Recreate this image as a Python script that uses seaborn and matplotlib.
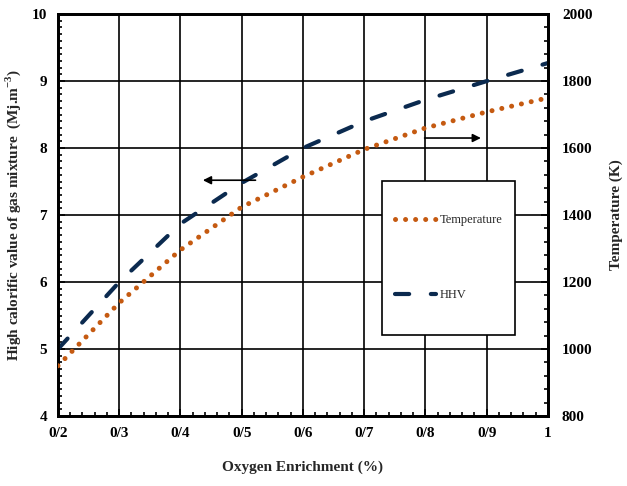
import matplotlib
matplotlib.use("Agg")
import matplotlib.pyplot as plt
import seaborn as sns
import pandas as pd
from matplotlib.patches import Rectangle
from matplotlib.ticker import MultipleLocator

# Data
oxygen = [0.2, 0.3, 0.4, 0.5, 0.6, 0.7, 0.8, 0.9, 1.0]
hhv = [5.0, 6.0, 6.87, 7.48, 8.0, 8.4, 8.72, 9.0, 9.27]
temperature = [950, 1138, 1296, 1424, 1514, 1596, 1660, 1708, 1750]
x_ticks = [0.2, 0.3, 0.4, 0.5, 0.6, 0.7, 0.8, 0.9, 1.0]
x_ticklabels = ["0/2", "0/3", "0/4", "0/5", "0/6", "0/7", "0/8", "0/9", "1"]
left_ticks = [4, 5, 6, 7, 8, 9, 10]
right_ticks = [800, 1000, 1200, 1400, 1600, 1800, 2000]

sns.set_theme(style="white")
plt.rcParams["font.family"] = ["Liberation Serif", "DejaVu Serif"]
plt.rcParams["mathtext.fontset"] = "custom"
plt.rcParams["mathtext.rm"] = "Liberation Serif"
plt.rcParams["mathtext.bf"] = "Liberation Serif:bold"

df = pd.DataFrame({"x": oxygen, "HHV": hhv, "Temperature": temperature})

fig = plt.figure(figsize=(6.27, 4.86), dpi=100)
ax = fig.add_axes([0.0925, 0.144, 0.7815, 0.827])
ax2 = ax.twinx()

navy = "#0b2a4f"
orange = "#c55a11"

sns.lineplot(data=df, x="x", y="HHV", ax=ax, color=navy, lw=3.0,
             dashes=False, label="HHV", legend=False, zorder=3)
l1 = ax.lines[-1]
l1.set_dashes((3.4, 5.2))
l1.set_dash_capstyle("round")

sns.lineplot(data=df, x="x", y="Temperature", ax=ax2, color=orange, lw=3.6,
             label="Temperature", legend=False, zorder=3)
l2 = ax2.lines[-1]
l2.set_dashes((0.01, 2.0))
l2.set_dash_capstyle("round")

ax.set_xlim(0.2, 1.0)
ax.set_ylim(4, 10)
ax2.set_ylim(800, 2000)
ax.set_xticks(x_ticks)
ax.set_xticklabels(x_ticklabels)
ax.set_yticks(left_ticks)
ax2.set_yticks(right_ticks)
ax.xaxis.set_minor_locator(MultipleLocator(0.02))
ax.yaxis.set_minor_locator(MultipleLocator(0.1))
ax2.yaxis.set_minor_locator(MultipleLocator(40))

ax.grid(True, which="major", color="black", lw=1.2)
ax.set_axisbelow(True)

for a in (ax, ax2):
    for s in a.spines.values():
        s.set_color("black")
        s.set_linewidth(2)
ax.tick_params(axis="both", which="major", direction="in", length=5, width=1.2,
               colors="black", labelsize=11, pad=8)
ax.tick_params(axis="both", which="minor", direction="in", length=3, width=1.2,
               colors="black")
ax.tick_params(axis="x", which="both", bottom=True)
ax.tick_params(axis="y", which="both", left=True)
ax2.tick_params(axis="y", which="major", direction="in", length=5, width=1.2,
                colors="black", labelsize=11, pad=10, right=True)
ax2.tick_params(axis="y", which="minor", direction="in", length=3, width=1.2,
                colors="black", right=True)
for lab in ax.get_xticklabels() + ax.get_yticklabels() + ax2.get_yticklabels():
    lab.set_fontweight("bold")

ax.set_xlabel("Oxygen Enrichment (%)", fontsize=11, fontweight="bold", labelpad=15)
ax.set_ylabel(r"High calorific value of gas mixture  (Mj.m$^{\mathbf{-3}}$)",
              fontsize=11, fontweight="bold", labelpad=6)
ax2.set_ylabel("Temperature (K)", fontsize=11, fontweight="bold", labelpad=12)

# Arrows
ax.annotate("", xy=(0.432, 7.52), xytext=(0.527, 7.52),
            arrowprops=dict(arrowstyle="-|>", color="black", lw=1.2,
                            mutation_scale=12))
ax2.annotate("", xy=(0.895, 1630), xytext=(0.794, 1630),
             arrowprops=dict(arrowstyle="-|>", color="black", lw=1.2,
                             mutation_scale=12))

# Legend box
rect = Rectangle((0.661, 0.2015), 0.272, 0.3835, transform=ax2.transAxes,
                 facecolor="white", edgecolor="black", lw=1.2, zorder=5)
ax2.add_patch(rect)
leg1 = ax2.legend(handles=[l2], labels=["Temperature"], loc="center left",
                  bbox_to_anchor=(0.665, 0.488), frameon=False, fontsize=9,
                  handlelength=3.3, handletextpad=0.3)
leg1.set_zorder(6)
ax2.add_artist(leg1)
leg2 = ax2.legend(handles=[l1], labels=["HHV"], loc="center left",
                  bbox_to_anchor=(0.665, 0.30), frameon=False, fontsize=9,
                  handlelength=3.3, handletextpad=0.3)
leg2.set_zorder(6)

fig.savefig("out.png", dpi=100)
